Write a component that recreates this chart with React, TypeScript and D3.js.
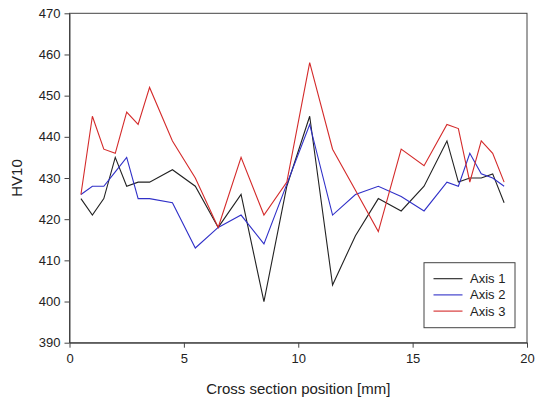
import React, { useEffect, useRef } from "react";
import * as d3 from "d3";

// positions along the cross section [mm]
const positions = [
  0.5, 1, 1.5, 2, 2.5, 3, 3.5, 4.5, 5.5, 6.5, 7.5, 8.5, 9.5, 10.5, 11.5, 12.5,
  13.5, 14.5, 15.5, 16.5, 17, 17.5, 18, 18.5, 19,
];

// hardness values per axis
const axis1 = [
  425, 421, 425, 435, 428, 429, 429, 432, 428, 418, 426, 400, 428, 445, 404,
  416, 425, 422, 428, 439, 429, 430, 430, 431, 424,
];
const axis2 = [
  426, 428, 428, 431.5, 435, 425, 425, 424, 413, 418, 421, 414, 428.5, 443,
  421, 426, 428, 425.5, 422, 429, 428, 436, 431, 430, 428,
];
const axis3 = [
  426, 445, 437, 436, 446, 443, 452, 439, 430, 418, 435, 421, 429, 458, 437,
  427, 417, 437, 433, 443, 442, 429, 439, 436, 429,
];

const seriesNames = ["Axis 1", "Axis 2", "Axis 3"];
const seriesColors = ["#222222", "#3030c8", "#d42a2a"];

const xTicks = [0, 5, 10, 15, 20];
const yTicks = [390, 400, 410, 420, 430, 440, 450, 460, 470];

const App: React.FC = () => {
  const svgRef = useRef<SVGSVGElement | null>(null);

  useEffect(() => {
    const width = 537;
    const height = 405;
    const plot = { left: 69.5, right: 527, top: 13.3, bottom: 342.7 };
    const font = "Arial, 'Liberation Sans', sans-serif";
    const axisColor = "#444";

    const svg = d3.select(svgRef.current);
    svg.selectAll("*").remove();
    svg.attr("width", width).attr("height", height);

    svg
      .append("rect")
      .attr("width", width)
      .attr("height", height)
      .attr("fill", "#fff");

    const xScale = d3.scaleLinear().domain([0, 20]).range([plot.left, plot.right]);
    const yScale = d3
      .scaleLinear()
      .domain([390, 470])
      .range([plot.bottom, plot.top]);

    // frame
    svg
      .append("rect")
      .attr("x", plot.left)
      .attr("y", plot.top)
      .attr("width", plot.right - plot.left)
      .attr("height", plot.bottom - plot.top)
      .attr("fill", "none")
      .attr("stroke", axisColor)
      .attr("stroke-width", 1);

    // axes
    const xAxis = d3
      .axisBottom(xScale)
      .tickValues(xTicks)
      .tickSize(5)
      .tickSizeOuter(0)
      .tickPadding(6);
    const yAxis = d3
      .axisLeft(yScale)
      .tickValues(yTicks)
      .tickSize(5)
      .tickSizeOuter(0)
      .tickPadding(4);

    const gx = svg
      .append("g")
      .attr("transform", `translate(0, ${plot.bottom})`)
      .call(xAxis);
    const gy = svg
      .append("g")
      .attr("transform", `translate(${plot.left}, 0)`)
      .call(yAxis);

    [gx, gy].forEach((g) => {
      g.select(".domain").attr("stroke", axisColor);
      g.selectAll(".tick line").attr("stroke", axisColor);
      g.selectAll(".tick text")
        .attr("fill", "#222")
        .style("font-family", font)
        .style("font-size", "13px");
    });

    // lines
    const allSeries = [axis1, axis2, axis3];
    const line = d3
      .line<number>()
      .x((_, i) => xScale(positions[i]))
      .y((d) => yScale(d));

    allSeries.forEach((values, s) => {
      svg
        .append("path")
        .attr("d", line(values))
        .attr("fill", "none")
        .attr("stroke", seriesColors[s])
        .attr("stroke-width", 1.1)
        .attr("stroke-linejoin", "miter");
    });

    // axis titles
    svg
      .append("text")
      .attr("x", (plot.left + plot.right) / 2)
      .attr("y", 394)
      .attr("text-anchor", "middle")
      .attr("fill", "#222")
      .style("font-family", font)
      .style("font-size", "15px")
      .text("Cross section position [mm]");

    svg
      .append("text")
      .attr("transform", `translate(22, ${(plot.top + plot.bottom) / 2}) rotate(-90)`)
      .attr("text-anchor", "middle")
      .attr("fill", "#222")
      .style("font-family", font)
      .style("font-size", "15px")
      .text("HV10");

    // legend
    const legend = svg.append("g").attr("transform", "translate(424, 262.7)");
    legend
      .append("rect")
      .attr("width", 91)
      .attr("height", 65)
      .attr("fill", "#fff")
      .attr("stroke", axisColor)
      .attr("stroke-width", 1);

    seriesNames.forEach((name, i) => {
      const y = 16 + i * 16.2;
      legend
        .append("line")
        .attr("x1", 9.5)
        .attr("x2", 38.5)
        .attr("y1", y)
        .attr("y2", y)
        .attr("stroke", seriesColors[i])
        .attr("stroke-width", 1.1);
      legend
        .append("text")
        .attr("x", 46)
        .attr("y", y + 4.5)
        .attr("fill", "#222")
        .style("font-family", font)
        .style("font-size", "13px")
        .text(name);
    });
  }, []);

  return (
    <div>
      <svg
        ref={svgRef}
        style={{ position: "absolute", left: 0, top: 0, display: "block" }}
      ></svg>
    </div>
  );
};

export default App;
